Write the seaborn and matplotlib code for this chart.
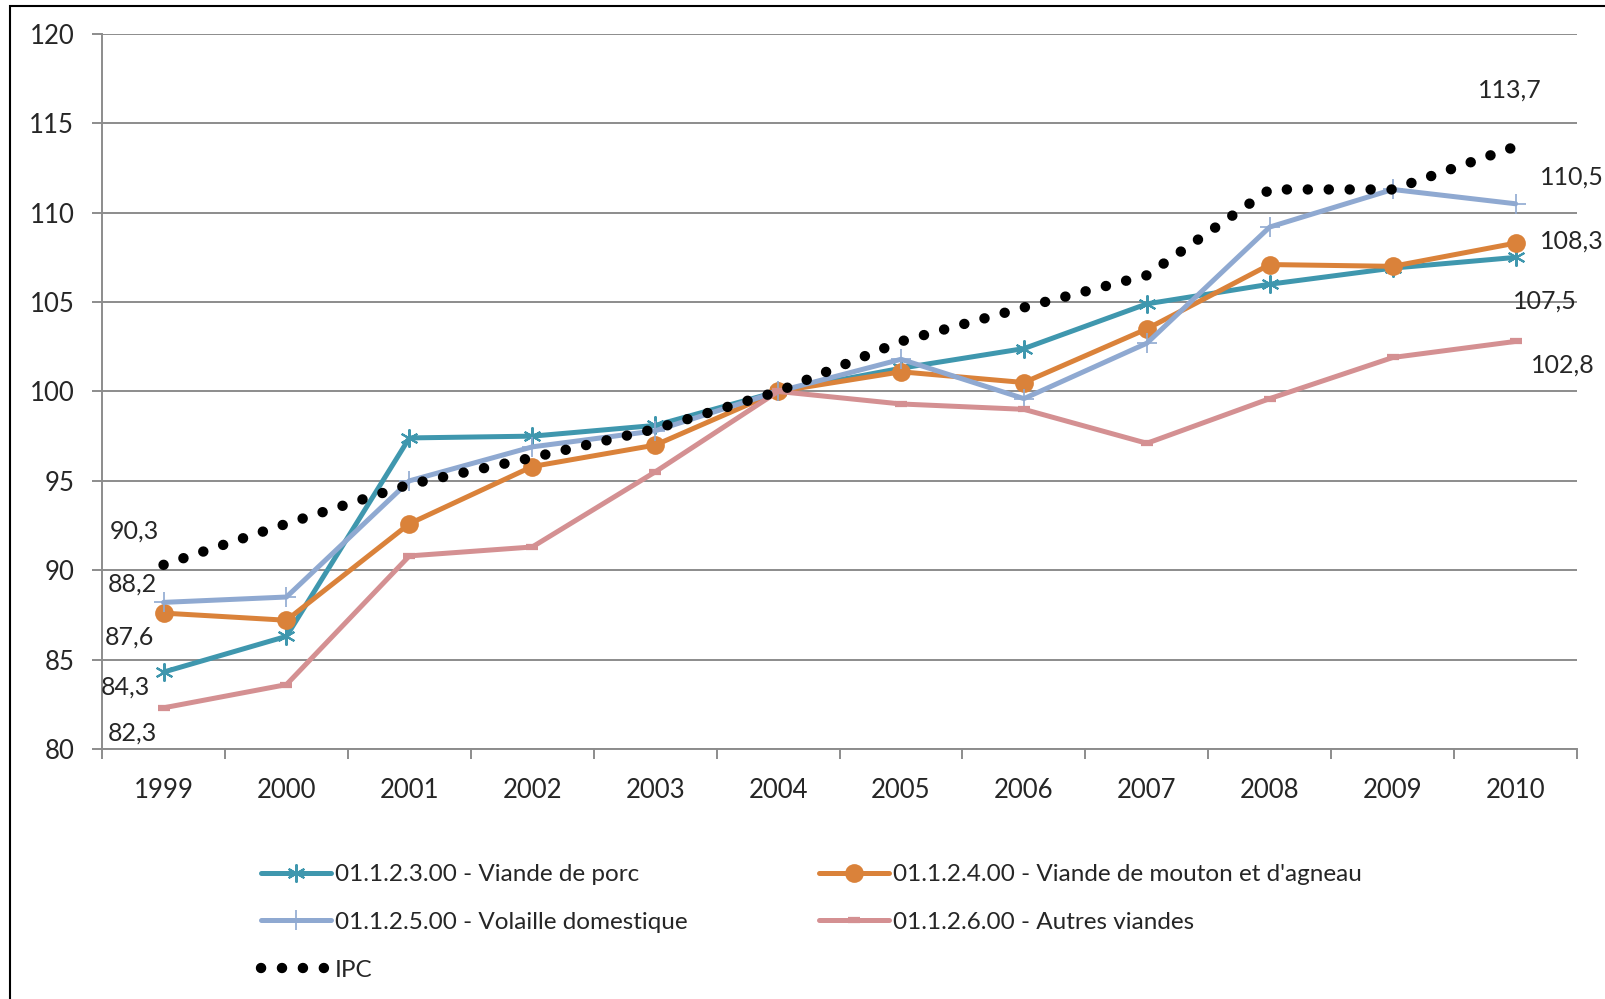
import numpy as np
import pandas as pd
import seaborn as sns
import matplotlib.pyplot as plt
import matplotlib.patches as patches

years = ["1999", "2000", "2001", "2002", "2003", "2004",
         "2005", "2006", "2007", "2008", "2009", "2010"]
porc = [84.3, 86.3, 97.4, 97.5, 98.1, 100.0, 101.3, 102.4, 104.9, 106.0, 106.9, 107.5]
mouton = [87.6, 87.2, 92.6, 95.8, 97.0, 100.0, 101.1, 100.5, 103.5, 107.1, 107.0, 108.3]
volaille = [88.2, 88.5, 95.0, 96.9, 97.8, 100.0, 101.8, 99.6, 102.7, 109.2, 111.3, 110.5]
autres = [82.3, 83.6, 90.8, 91.3, 95.5, 100.0, 99.3, 99.0, 97.1, 99.6, 101.9, 102.8]
ipc = [90.3, 92.6, 94.8, 96.3, 97.9, 100.0, 102.8, 104.7, 106.5, 111.3, 111.3, 113.7]

names = ["01.1.2.3.00 - Viande de porc",
         "01.1.2.4.00 - Viande de mouton et d'agneau",
         "01.1.2.5.00 - Volaille domestique",
         "01.1.2.6.00 - Autres viandes",
         "IPC"]

sns.set_theme(style="white")
plt.rcParams["font.family"] = ["Lato", "DejaVu Sans"]

df = pd.DataFrame({"annee": np.arange(len(years)), "porc": porc, "mouton": mouton,
                   "volaille": volaille, "autres": autres, "ipc": ipc})

fig = plt.figure(figsize=(16.05, 9.99), dpi=100)
ax = fig.add_axes([0.0636, 0.2503, 0.9190, 0.7157])

# frame of the chart area (only left/top visible)
fig.patches.append(patches.Rectangle((10 / 1605, -0.2), 2.0, 1.2 - 6 / 999,
                                     transform=fig.transFigure, fill=False,
                                     edgecolor="black", lw=1.5))

grey = "#8c8c8c"
teal = "#3f97ae"
orange = "#da823a"
lblue = "#8fa9d1"
pink = "#d49092"

sns.lineplot(data=df, x="annee", y="porc", ax=ax, color=teal, lw=3.6, marker=(6, 2, 0),
             markersize=13, markeredgewidth=1.5, markeredgecolor=teal, label=names[0])
sns.lineplot(data=df, x="annee", y="mouton", ax=ax, color=orange, lw=3.6, marker="o",
             markersize=13.5, markeredgewidth=0, label=names[1])
sns.lineplot(data=df, x="annee", y="volaille", ax=ax, color=lblue, lw=3.6, marker="+",
             markersize=15, markeredgewidth=1.2, markeredgecolor=lblue, label=names[2])
sns.lineplot(data=df, x="annee", y="autres", ax=ax, color=pink, lw=3.6, marker="_",
             markersize=9, markeredgewidth=4.5, markeredgecolor=pink, label=names[3])
sns.lineplot(data=df, x="annee", y="ipc", ax=ax, color="black", lw=7.5,
             linestyle=(0, (0.01, 2.0)), dash_capstyle="round", label=names[4])

ax.set_xlabel("")
ax.set_ylabel("")
ax.set_ylim(80, 120)
ax.set_xlim(-0.5, len(years) - 0.5)
ax.set_yticks(range(80, 121, 5))
ax.yaxis.grid(True, color=grey, lw=1.4)
ax.set_axisbelow(True)
for side in ["top", "right"]:
    ax.spines[side].set_visible(False)
for side in ["left", "bottom"]:
    ax.spines[side].set_color(grey)
    ax.spines[side].set_linewidth(1.4)

ax.set_xticks(np.arange(-0.5, len(years), 1.0))
ax.set_xticklabels([])
ax.set_xticks(np.arange(len(years)), minor=True)
ax.set_xticklabels(years, minor=True)
ax.tick_params(axis="x", which="major", direction="out", length=7, width=1.4, color=grey)
ax.tick_params(axis="x", which="minor", length=0, pad=21, labelsize=18.5)
ax.tick_params(axis="y", direction="out", length=7, width=1.4, color=grey, pad=13, labelsize=18.5)
ax.tick_params(left=True, bottom=True)

# data labels at both ends
first = {"ipc": (-29, 34), "volaille": (-31, 18), "mouton": (-34, -24),
         "porc": (-38, -15), "autres": (-31, -25)}
last = {"ipc": (-6, 56), "volaille": (56, 27), "mouton": (56, 2),
        "porc": (29, -44), "autres": (47, -24)}
for col, off in first.items():
    v = df[col].iloc[0]
    ax.annotate(f"{v:.1f}".replace(".", ","), (0, v), xytext=off, textcoords="offset pixels",
                ha="center", va="center", fontsize=18, annotation_clip=False)
for col, off in last.items():
    v = df[col].iloc[-1]
    ax.annotate(f"{v:.1f}".replace(".", ","), (len(years) - 1, v), xytext=off,
                textcoords="offset pixels", ha="center", va="center", fontsize=18,
                annotation_clip=False)

handles, labels = ax.get_legend_handles_labels()
ax.get_legend().remove()
kw = dict(frameon=False, fontsize=17.5, handlelength=2.9, handletextpad=0.15,
          labelspacing=1.1, borderpad=0, borderaxespad=0, loc="upper left")
leg1 = fig.legend([handles[0], handles[2], handles[4]], [labels[0], labels[2], labels[4]],
                  bbox_to_anchor=(261 / 1605, 1 - 864 / 999), **kw)
leg2 = fig.legend([handles[1], handles[3]], [labels[1], labels[3]],
                  bbox_to_anchor=(819 / 1605, 1 - 864 / 999), **kw)

fig.savefig("out.png", dpi=100)
